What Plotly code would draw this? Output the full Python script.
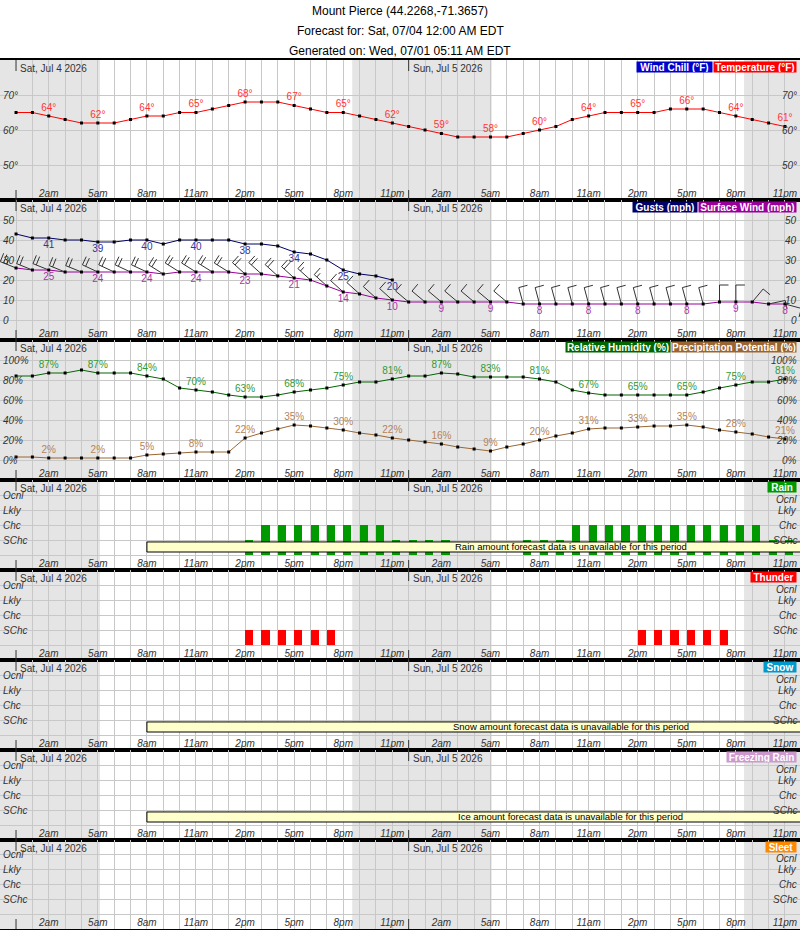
import math
import plotly.graph_objects as go

# ---------------- data ----------------
hours = list(range(48))
tick_hours = list(range(2, 48, 3))
tick_labels = ["2am", "5am", "8am", "11am", "2pm", "5pm", "8pm", "11pm"] * 2
day_starts = [0, 24]
day_labels = ["Sat, Jul 4 2026", "Sun, Jul 5 2026"]
sunrise = [5.13, 29.08]
sunset = [20.55, 44.5]

title_lines = ["Mount Pierce (44.2268,-71.3657)",
               "Forecast for: Sat, 07/04 12:00 AM EDT",
               "Generated on: Wed, 07/01 05:11 AM EDT"]

temperature = [65, 65, 64, 63, 62, 62, 62, 63, 64, 64, 65, 65, 66, 67, 68, 68, 68, 67, 66, 65, 65, 64, 63, 62,
               61, 60, 59, 58, 58, 58, 58, 59, 60, 61, 63, 64, 65, 65, 65, 65, 66, 66, 66, 65, 64, 63, 62, 61]
gusts = [43, 41, 41, 40, 40, 39, 39, 40, 40, 38, 40, 40, 40, 40, 38, 38, 37, 34, 33, 30, 25, 23, 22, 20] + [None] * 24
surface_wind = [26, 25, 25, 24, 24, 24, 24, 24, 24, 23, 24, 24, 24, 24, 23, 23, 22, 21, 20, 17, 14, 13, 11, 10,
                9, 9, 9, 9, 9, 9, 9, 8, 8, 8, 8, 8, 8, 8, 8, 8, 8, 8, 8, 9, 9, 9, 8, 8]
# direction the wind blows from (degrees)
wind_dir = [292, 292, 292, 292, 292, 295, 295, 295, 295, 302, 302, 302, 302, 302, 312, 312, 312, 312, 312,
            312, 312, 312, 312, 312,
            310, 310, 310, 310, 310, 310, 310, 345, 345, 345, 345, 345, 345, 345, 345, 345, 345, 345, 345,
            0, 0, 40, 78, 105]
humidity = [84, 84, 87, 87, 90, 87, 87, 87, 84, 81, 72, 70, 68, 65, 63, 63, 65, 68, 70, 72, 75, 78, 78, 81,
            84, 84, 87, 86, 83, 83, 83, 83, 81, 78, 70, 67, 65, 65, 65, 65, 65, 65, 68, 72, 75, 78, 78, 81]
precip_potential = [3, 3, 2, 2, 2, 2, 2, 2, 5, 6, 7, 8, 8, 8, 22, 27, 31, 35, 34, 32, 30, 27, 25, 22,
                    20, 18, 16, 13, 11, 9, 13, 16, 20, 24, 27, 31, 32, 32, 33, 34, 34, 35, 33, 30, 28, 26, 23, 21]
# 0 none, 1 SChc, 2 Chc, 3 Lkly, 4 Ocnl
rain = [0] * 14 + [1] + [2] * 8 + [1] + [1, 1, 1, 0, 0, 0, 0, 1, 1, 1] + [2] * 12 + [1, 1]
thunder = [0] * 14 + [1] * 6 + [0] * 18 + [1] * 6 + [0] * 4
snow = [0] * 48
freezing_rain = [0] * 48
sleet = [0] * 48
chance_levels = [0, 1, 2, 3, 4]
chance_labels = ["", "SChc", "Chc", "Lkly", "Ocnl"]
amount_unavailable = [8, 59.8]   # hour span of the "unavailable" notes

# ---------------- layout geometry ----------------
W, H = 800, 930
T, B = 60, 1
plot_h = H - T - B
xmin, xmax = -0.98, 47.92
px_per_hour = W / (xmax - xmin)
panel_px = [(60, 200), (200, 340), (340, 480), (480, 570), (570, 660), (660, 750), (750, 840), (840, 929)]
FONT = "Liberation Sans, Arial, sans-serif"
NARROW = "Liberation Sans Narrow, Arial Narrow, Liberation Sans, Arial, sans-serif"
GRID = "#c8c8c8"
TXT = "#333333"


def ppaper(ypx):
    return (H - B - ypx) / plot_h


panels = [
    dict(rng=[40, 80], tv=[50, 60, 70], tt=["50°", "60°", "70°"]),
    dict(rng=[-10, 60], tv=[0, 10, 20, 30, 40, 50], tt=["0", "10", "20", "30", "40", "50"]),
    dict(rng=[-20, 120], tv=[0, 20, 40, 60, 80, 100], tt=["0%", "20%", "40%", "60%", "80%", "100%"]),
] + [dict(rng=[-1, 5], tv=chance_levels, tt=chance_labels) for _ in range(5)]

legends = [
    [("Wind Chill (°F)", "#0000cc", 638, 713), ("Temperature (°F)", "#ff0000", 715, 797)],
    [("Gusts (mph)", "#000066", 634, 698), ("Surface Wind (mph)", "#990099", 700, 797)],
    [("Relative Humidity (%)", "#006600", 567, 671), ("Precipitation Potential (%)", "#996633", 673, 797)],
    [("Rain", "#009900", 769, 797)],
    [("Thunder", "#ff0000", 752, 797)],
    [("Snow", "#0099cc", 765, 797)],
    [("Freezing Rain", "#cc99cc", 728, 797)],
    [("Sleet", "#ff8800", 767, 797)],
]

tickfont = dict(family=FONT, size=10, color=TXT, style="italic")
layout = dict(width=W, height=H, margin=dict(l=0, r=0, t=T, b=B), plot_bgcolor="white",
              paper_bgcolor="white", showlegend=False, bargap=0)
shapes, annotations = [], []

for i, ((top, bot), p) in enumerate(zip(panel_px, panels), start=1):
    xn = "x" if i == 1 else f"x{i}"
    yn = "y" if i == 1 else f"y{i}"
    xa = dict(domain=[0, 1], range=[xmin, xmax], anchor=yn, tickmode="array", tickvals=tick_hours,
              ticktext=tick_labels, ticklabelposition="inside", ticks="", showgrid=True, gridcolor=GRID,
              gridwidth=1, minor=dict(tickmode="linear", tick0=0, dtick=1, showgrid=True, gridcolor=GRID,
                                      gridwidth=1, ticks=""),
              showline=True, mirror=True, linecolor="black", linewidth=2, zeroline=False,
              tickfont=tickfont, fixedrange=True)
    if i > 1:
        xa["matches"] = "x"
    ya = dict(domain=[ppaper(bot), ppaper(top)], range=p["rng"], anchor=xn, tickmode="array",
              tickvals=p["tv"], ticktext=p["tt"], ticklabelposition="inside", ticks="", showgrid=True,
              gridcolor=GRID, gridwidth=1, zeroline=False, showline=False, tickfont=tickfont, fixedrange=True)
    layout["xaxis" if i == 1 else f"xaxis{i}"] = xa
    layout["yaxis" if i == 1 else f"yaxis{i}"] = ya

    # right-hand tick labels (the top one sits just under the legend box)
    for v, t in zip(p["tv"], p["tt"]):
        if t:
            shift = -4 if (i > 3 and v == chance_levels[-1]) else 0
            annotations.append(dict(text=t, x=1, xref="paper", xanchor="right", xshift=-1, y=v, yref=yn,
                                    yanchor="middle", yshift=shift, showarrow=False, font=tickfont))

    hpx = bot - top
    # day labels and separators
    for d0, lab in zip(day_starts, day_labels):
        annotations.append(dict(text=lab, x=d0, xref=xn, xanchor="left", xshift=2, y=1, yref=f"{yn} domain",
                                yanchor="top", yshift=-1, showarrow=False,
                                font=dict(family=FONT, size=10, color=TXT)))
        shapes.append(dict(type="line", x0=d0, x1=d0, xref=xn, y0=1, y1=1 - 11 / hpx, yref=f"{yn} domain",
                           line=dict(color="#333333", width=1)))
        shapes.append(dict(type="line", x0=d0, x1=d0, xref=xn, y0=0, y1=10 / hpx, yref=f"{yn} domain",
                           line=dict(color="#333333", width=1)))
    # legend boxes
    for text, col, x0, x1 in legends[i - 1]:
        annotations.append(dict(text=f"<b>{text}</b>", x=x1 / W, xref="paper", xanchor="right",
                                y=1, yref=f"{yn} domain", yanchor="top", yshift=-1, width=x1 - x0, height=10,
                                bgcolor=col, borderpad=0, showarrow=False, align="center", valign="middle",
                                font=dict(family=FONT, size=10, color="white")))

# night shading
night = [(xmin, sunrise[0]), (sunset[0], sunrise[1]), (sunset[1], xmax)]
for a, b in night:
    shapes.append(dict(type="rect", x0=a, x1=b, xref="x", y0=0, y1=1, yref="paper", layer="below",
                       fillcolor="#e5e5e5", line=dict(width=0)))

# titles
for k, t in enumerate(title_lines):
    annotations.append(dict(text=t, x=0.5, xref="paper", y=ppaper(11 + 20 * k), yref="paper",
                            yanchor="middle", showarrow=False, font=dict(family=NARROW, size=12, color="black")))

# "unavailable" notes
for idx, kind in [(4, "Rain"), (6, "Snow"), (7, "Ice")]:
    xn, yn = f"x{idx}", f"y{idx}"
    shapes.append(dict(type="rect", x0=amount_unavailable[0], x1=amount_unavailable[1], xref=xn,
                       y0=0.2, y1=0.87, yref=yn, layer="above", fillcolor="#ffffcc",
                       line=dict(color="black", width=1)))
    annotations.append(dict(text=f"{kind} amount forecast data is unavailable for this period",
                            x=sum(amount_unavailable) / 2, xref=xn, y=0.535, yref=yn, showarrow=False,
                            font=dict(family=FONT, size=9.5, color="black")))


def label_text(vals, suffix=""):
    return [f"{v}{suffix}" if (h in tick_hours and v is not None) else "" for h, v in zip(hours, vals)]


mk = dict(symbol="square", size=3, color="black", line=dict(width=0))
traces = []
traces.append(go.Scatter(x=hours, y=temperature, mode="lines+markers+text", text=label_text(temperature, "°"),
                         textposition="top center", textfont=dict(family=FONT, size=10, color="#ff3333"),
                         line=dict(color="#ff0000", width=1), marker=mk, xaxis="x", yaxis="y"))

# wind barbs (staff toward the direction the wind comes from, feathers clockwise)
px_per_mph = (panel_px[1][1] - panel_px[1][0]) / (panels[1]["rng"][1] - panels[1]["rng"][0])
STAFF, FEATHER, HALF, SPACING, ANG = 17, 9, 5, 3.5, 90
bx, by = [], []
for h, s, d in zip(hours, surface_wind, wind_dir):
    kt = s * 0.868976
    n5 = max(2, int(round(kt / 5.0)))
    full, half = n5 // 2, n5 % 2
    ux, uy = math.sin(math.radians(d)), math.cos(math.radians(d))
    a = math.radians(ANG)
    fx, fy = ux * math.cos(a) + uy * math.sin(a), -ux * math.sin(a) + uy * math.cos(a)
    segs = [((0, 0), (STAFF * ux, STAFF * uy))]
    pos = 0.0
    for _ in range(full):
        sx, sy = (STAFF - pos) * ux, (STAFF - pos) * uy
        segs.append(((sx, sy), (sx + FEATHER * fx, sy + FEATHER * fy)))
        pos += SPACING
    if half:
        sx, sy = (STAFF - pos) * ux, (STAFF - pos) * uy
        segs.append(((sx, sy), (sx + HALF * fx, sy + HALF * fy)))
    for (p0x, p0y), (p1x, p1y) in segs:
        bx += [h + p0x / px_per_hour, h + p1x / px_per_hour, None]
        by += [s + p0y / px_per_mph, s + p1y / px_per_mph, None]
traces.append(go.Scatter(x=bx, y=by, mode="lines", line=dict(color="#333333", width=1), xaxis="x2", yaxis="y2"))
traces.append(go.Scatter(x=hours, y=gusts, mode="lines+markers+text", text=label_text(gusts),
                         textposition="bottom center", textfont=dict(family=FONT, size=10, color="#333399"),
                         line=dict(color="#000066", width=1), marker=mk, xaxis="x2", yaxis="y2"))
traces.append(go.Scatter(x=hours, y=surface_wind, mode="lines+markers+text", text=label_text(surface_wind),
                         textposition="bottom center", textfont=dict(family=FONT, size=10, color="#aa33aa"),
                         line=dict(color="#990099", width=1), marker=mk, xaxis="x2", yaxis="y2"))

traces.append(go.Scatter(x=hours, y=humidity, mode="lines+markers+text", text=label_text(humidity, "%"),
                         textposition="top center", textfont=dict(family=FONT, size=10, color="#339933"),
                         line=dict(color="#006600", width=1), marker=mk, xaxis="x3", yaxis="y3"))
traces.append(go.Scatter(x=hours, y=precip_potential, mode="lines+markers+text",
                         text=label_text(precip_potential, "%"),
                         textposition="top center", textfont=dict(family=FONT, size=10, color="#b5835a"),
                         line=dict(color="#996633", width=1), marker=mk, xaxis="x3", yaxis="y3"))

for idx, vals, col in [(4, rain, "#009900"), (5, thunder, "#ff0000"), (6, snow, "#0099cc"),
                       (7, freezing_rain, "#cc99cc"), (8, sleet, "#ff8800")]:
    traces.append(go.Bar(x=hours, y=vals, base=0, offset=0, width=0.5, marker=dict(color=col, line=dict(width=0)),
                         xaxis=f"x{idx}", yaxis=f"y{idx}"))

layout["shapes"] = shapes
layout["annotations"] = annotations
fig = go.Figure(data=traces, layout=layout)
fig.write_html("out.html")
